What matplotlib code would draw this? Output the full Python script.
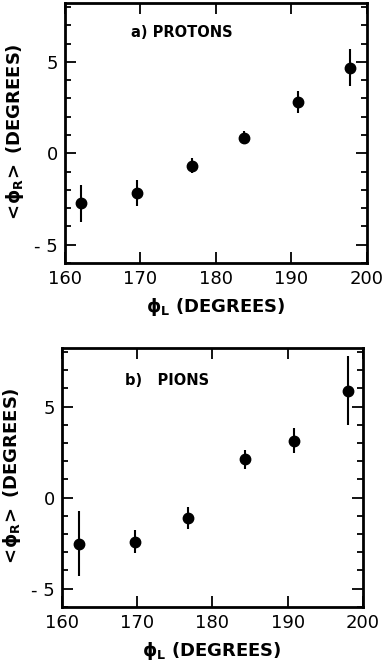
import matplotlib
matplotlib.use("Agg")
import matplotlib.pyplot as plt
from matplotlib.ticker import MultipleLocator

plt.rcParams['font.family'] = ['DejaVu Sans']
plt.rcParams['mathtext.fontset'] = 'dejavusans'
plt.rcParams['mathtext.default'] = 'bf'

# Panel a) protons
phi_l_a = [162.1, 169.6, 176.8, 183.8, 190.9, 197.8]
phi_r_a = [-2.73, -2.18, -0.67, 0.85, 2.80, 4.68]
err_a = [1.0, 0.72, 0.40, 0.35, 0.62, 1.02]

# Panel b) pions
phi_l_b = [162.3, 169.7, 176.8, 184.4, 190.9, 198.0]
phi_r_b = [-2.53, -2.42, -1.12, 2.10, 3.13, 5.88]
err_b = [1.80, 0.63, 0.60, 0.52, 0.70, 1.88]

labels = ["a) PROTONS", "b)   PIONS"]
xticks = [160, 170, 180, 190, 200]
yticks = [-5, 0, 5]
yticklabels = ['- 5', '0', '5']

fig = plt.figure(figsize=(3.86, 6.66), dpi=100)
ax_a = fig.add_axes([0.168, 0.605, 0.782, 0.390])
ax_b = fig.add_axes([0.160, 0.089, 0.780, 0.388])

panels = [(ax_a, phi_l_a, phi_r_a, err_a, labels[0], 168.8, 6.6),
          (ax_b, phi_l_b, phi_r_b, err_b, labels[1], 168.4, 6.45)]

for ax, x, y, e, lab, tx, ty in panels:
    ax.errorbar(x, y, yerr=e, fmt='o', color='black', ms=7.5, elinewidth=1.5,
                capsize=0)
    ax.set_xlim(160, 200)
    ax.set_ylim(-6, 8.2)
    ax.set_xticks(xticks)
    ax.set_yticks(yticks)
    ax.set_yticklabels(yticklabels)
    ax.yaxis.set_minor_locator(MultipleLocator(1))
    ax.tick_params(which='both', direction='in', top=True, right=True,
                   width=1.3, labelsize=13)
    ax.tick_params(which='major', length=8, pad=5)
    ax.tick_params(which='minor', length=4.5)
    for s in ax.spines.values():
        s.set_linewidth(2.0)
    ax.set_xlabel(r'$\phi_L$ (DEGREES)', fontsize=13, fontweight='bold',
                  labelpad=6)
    ax.set_ylabel(r'$<\!\phi_R\!>$ (DEGREES)', fontsize=13,
                  fontweight='bold', labelpad=6)
    ax.text(tx, ty, lab, ha='left', va='center', fontsize=10.5,
            fontweight='bold')

fig.savefig('out.png', dpi=100)
